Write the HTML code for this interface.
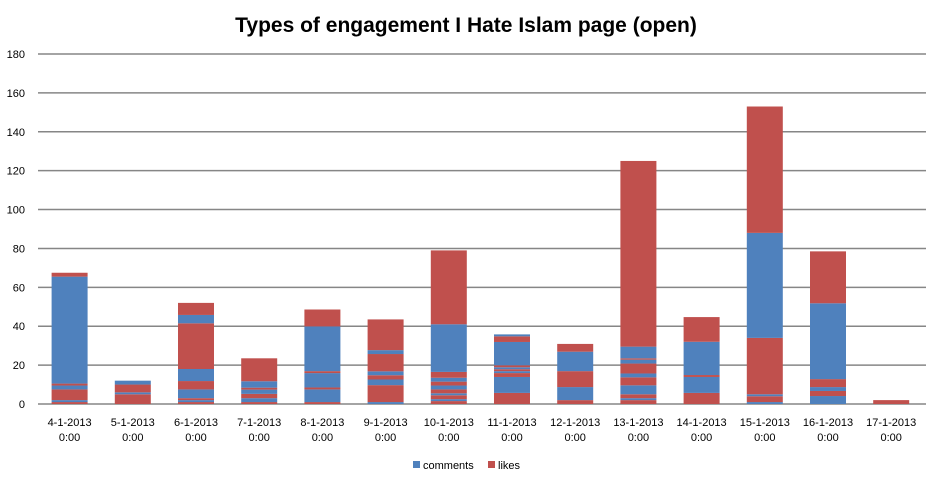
<!DOCTYPE html>
<html><head><meta charset="utf-8"><style>
body{margin:0;background:#fff;font-family:"Liberation Sans",sans-serif}
svg text{font-family:"Liberation Sans",sans-serif}
</style></head><body>
<svg id="chart" width="936" height="481" xmlns="http://www.w3.org/2000/svg">
<text x="466" y="32" text-anchor="middle" font-size="21" font-weight="bold" fill="#000">Types of engagement I Hate Islam page (open)</text>
<g id="grid"></g><g id="bars"></g><g id="labels"></g>
<g>
<rect x="413" y="461" width="7" height="7" fill="#4F81BD"/>
<text x="423" y="469" font-size="11" fill="#000">comments</text>
<rect x="488" y="461" width="7" height="7" fill="#C0504D"/>
<text x="498" y="469" font-size="11" fill="#000">likes</text>
</g>
</svg>
<script>
const categories=["4-1-2013","5-1-2013","6-1-2013","7-1-2013","8-1-2013","9-1-2013","10-1-2013","11-1-2013","12-1-2013","13-1-2013","14-1-2013","15-1-2013","16-1-2013","17-1-2013"];
// segment types bottom-to-top ("c"=comments, "l"=likes) and values
const segTypes=[
["l","c","l","c","l","c","l"],
["l","c","l","c"],
["l","c","l","c","l","c","l","c","l"],
["l","c","l","c","l","c","l"],
["l","c","l","c","l","c","l"],
["c","l","c","l","c","l","c","l"],
["l","c","l","c","l","c","l","c","l","c","l"],
["l","c","l","c","l","c","l","c","l","c"],
["l","c","l","c","l"],
["l","c","l","c","l","c","l","c","l","c","l"],
["l","c","l","c","l"],
["c","l","c","l","c","l"],
["c","l","c","l","c","l"],
["l"]];
const segValues=[
[1,1,5.5,2,1,55,2],
[5,1,4,2],
[1,1,1,4.5,4.3,6.2,23.5,4.3,6.2],
[1,2,2.2,2.2,1,3.3,11.8],
[1,6.5,1,7.4,1,23,8.7],
[1,8.7,2.9,2.2,2,8.9,2,15.8],
[1.5,1,2,1,2,2,2,2,3,24.5,38],
[5.7,8.2,2,1,1,1,1,12,2.9,1],
[2,6.7,8.2,10,4],
[2,1,2,4.6,4.1,2,5.1,2,0.7,6,95.5],
[5.7,8.2,1,17.1,12.7],
[1,3,1,29,54,65],
[4.1,2.6,2,4.1,39,26.7],
[2]];
const yTicks=[0,20,40,60,80,100,120,140,160,180];
const NS="http://www.w3.org/2000/svg";
const x0=38,band=63.2,bw=36,y0=404,yMax=180,ph=350;
const y=v=>y0-v/yMax*ph;
const xc=i=>x0+band*(i+0.5);
function mk(t,a,p){const e=document.createElementNS(NS,t);for(const k in a)e.setAttribute(k,a[k]);p.appendChild(e);return e;}
const g=document.getElementById('grid'),b=document.getElementById('bars'),L=document.getElementById('labels');
yTicks.forEach(v=>{
 const ln=mk('line',{x1:x0,x2:926,y1:y(v),y2:y(v),stroke:'#868686','stroke-width':1.5},g);
 
 
 const t=mk('text',{x:25,y:y(v)+4,'text-anchor':'end','font-size':11,fill:'#000'},L);t.textContent=v;
 
 
});
categories.forEach((c,i)=>{
 let acc=0;
 segValues[i].forEach((v,j)=>{
  const r=mk('rect',{x:xc(i)-bw/2,y:y(acc+v),width:bw,height:y(acc)-y(acc+v),fill:segTypes[i][j]=="c"?"#4F81BD":"#C0504D"},b);
  
  
  acc+=v;
 });
 const t1=mk('text',{x:xc(i),y:426,'text-anchor':'middle','font-size':11,fill:'#000'},L);t1.textContent=c;
 
 
 const t2=mk('text',{x:xc(i),y:441,'text-anchor':'middle','font-size':11,fill:'#000'},L);t2.textContent='0:00';
 
 
});
</script>
</body></html>
